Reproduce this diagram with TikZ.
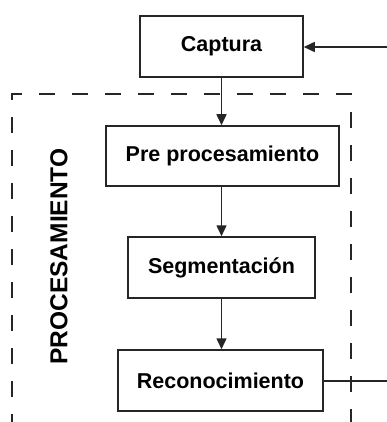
\documentclass[tikz,border=0pt]{standalone}
\usepackage{fontspec}
\setmainfont{Liberation Sans}
\usetikzlibrary{arrows.meta}
\begin{document}
\begin{tikzpicture}[x=1pt,y=-1pt,
  stepbox/.style={draw=black!85,line width=1.5pt,rectangle,inner sep=0pt,
    font=\fontsize{21.5}{25}\selectfont\bfseries},
  conn/.style={draw=black!85,line width=1.5pt},
  arr/.style={conn,-{Triangle[length=11pt,width=10pt]}},
  frame/.style={draw=black!85,line width=1.5pt,dash pattern=on 16pt off 17pt}]
\useasboundingbox (0,0) rectangle (387,422);
\fill[white] (0,0) rectangle (387,422);
\begin{scope}
\clip (0,0) rectangle (387,422);
\draw[frame] (12,430) -- (12,94) -- (351,94) -- (351,430);
\end{scope}
\node[stepbox,minimum width=163pt,minimum height=61pt] (cap) at (221.5,46.5) {Captura};
\node[stepbox,minimum width=233pt,minimum height=60pt] (pre) at (222.5,156) {Pre procesamiento};
\node[stepbox,minimum width=187pt,minimum height=61pt] (seg) at (221.5,267.5) {Segmentación};
\node[stepbox,minimum width=205pt,minimum height=61pt] (rec) at (220.5,380.5) {Reconocimiento};
\node[rotate=90,font=\fontsize{24.5}{28}\selectfont\bfseries] (proc) at (59,256.5) {PROCESAMIENTO};
\coordinate (inR) at (387,47);
\coordinate (outR) at (387,381);
\draw[arr] (cap.south) -- (cap.south |- pre.north);
\draw[arr] (seg.north |- pre.south) -- (seg.north);
\draw[arr] (seg.south) -- (seg.south |- rec.north);
\draw[arr] (inR) -- (cap.east |- inR);
\draw[conn] (rec.east |- outR) -- (outR);
\end{tikzpicture}
\end{document}
